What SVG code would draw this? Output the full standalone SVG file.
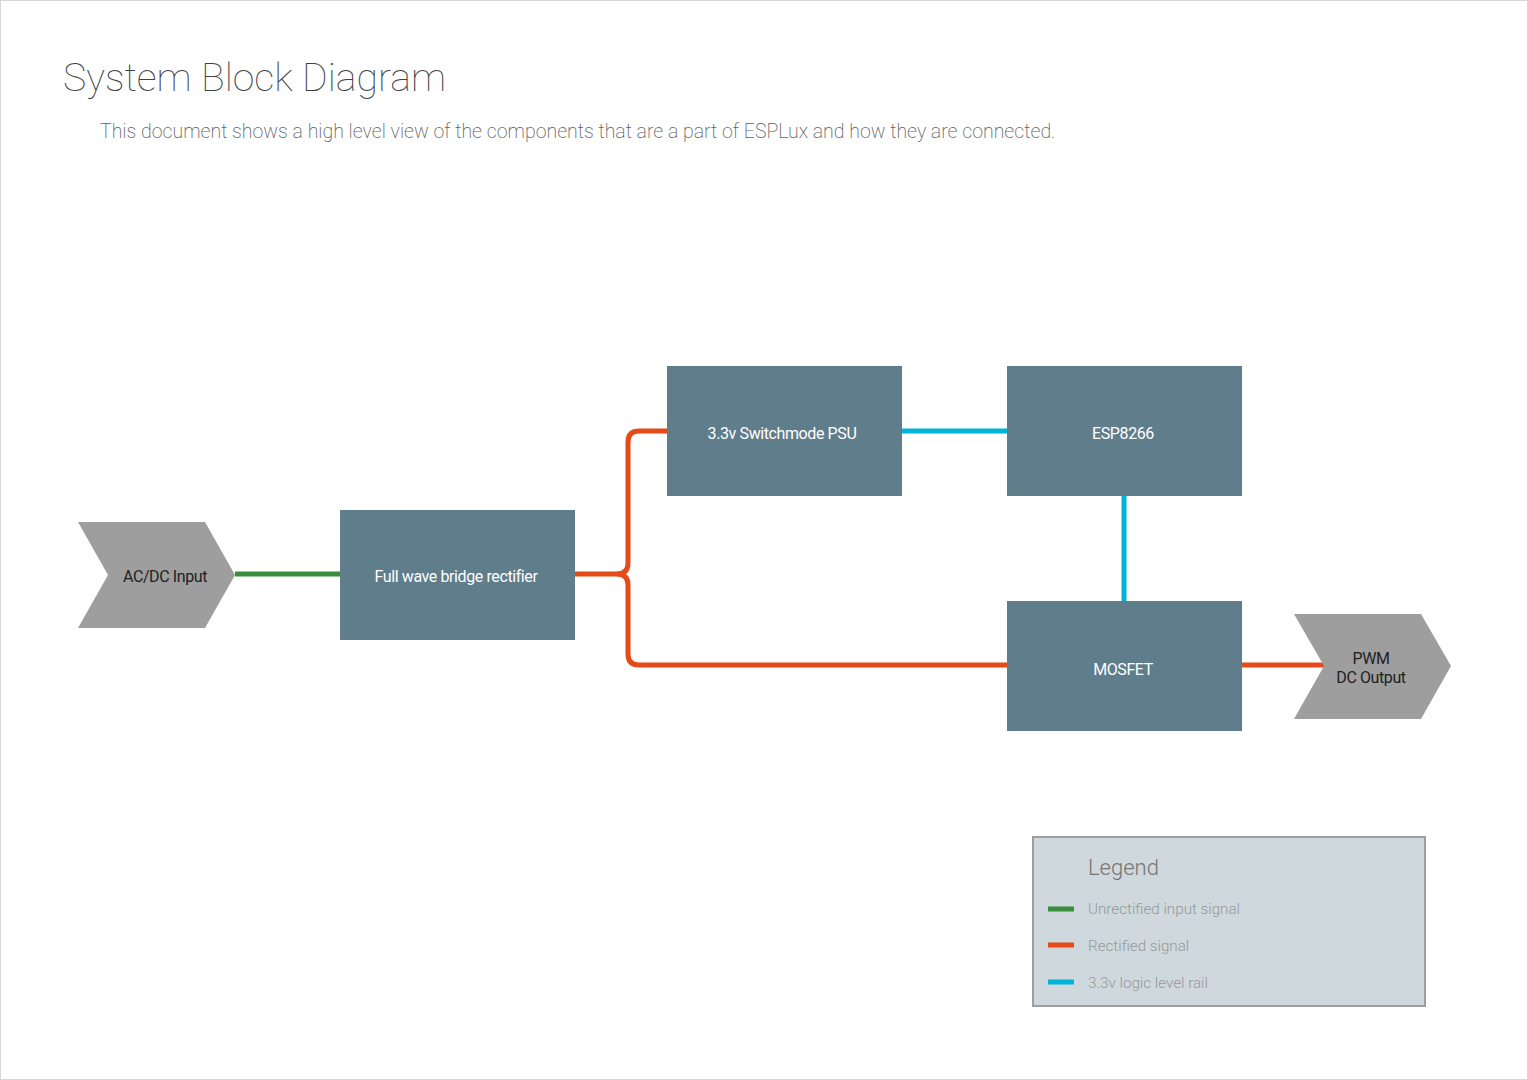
<svg xmlns="http://www.w3.org/2000/svg" width="1528" height="1080" viewBox="0 0 1528 1080">
<style>
.node{fill:#607d8b}
.chev{fill:#9e9e9e}
.nt{font-family:Roboto,"Liberation Sans",sans-serif;font-size:16px;fill:#ffffff;text-anchor:middle;letter-spacing:-0.4px}
.ct{font-family:Roboto,"Liberation Sans",sans-serif;font-size:16px;fill:#212121;text-anchor:middle;letter-spacing:-0.4px}
.w{fill:none;stroke-width:5;stroke-linecap:butt;stroke-linejoin:round}
.g{stroke:#388e3c}
.o{stroke:#e64a19}
.c{stroke:#00b4d8}
.lt{font-family:Roboto,"Liberation Sans",sans-serif;font-weight:300;font-size:15.2px;fill:#95999b}
</style>
<rect x="0.5" y="0.5" width="1527" height="1079" fill="#ffffff" stroke="#d6d6d6"/>
<text x="63" y="91" font-family="Roboto,'Liberation Sans',sans-serif" font-weight="100" font-size="39.2" fill="#424242">System Block Diagram</text>
<text x="100" y="138" font-family="Roboto,'Liberation Sans',sans-serif" font-weight="200" font-size="19.5" fill="#616161">This document shows a high level view of the components that are a part of ESPLux and how they are connected.</text>
<g id="connectors">
<path class="w g" d="M235 574 H340"/>
<path class="w o" d="M575 574 H617 Q628 574 628 563 V442 Q628 431 639 431 H667"/>
<path class="w o" d="M617 574 Q628 574 628 585 V654 Q628 665 639 665 H1007"/>
<path class="w o" d="M1242 665 H1324"/>
<path class="w c" d="M902 431 H1007"/>
<path class="w c" d="M1124 496 V601"/>
</g>
<g id="acdc-input">
<polygon class="chev" points="78,522 205,522 235,575 205,628 78,628 108,575"/>
<text class="ct" x="165" y="582">AC/DC Input</text>
</g>
<g id="rectifier">
<rect class="node" x="340" y="510" width="235" height="130"/>
<text class="nt" x="456" y="582">Full wave bridge rectifier</text>
</g>
<g id="psu">
<rect class="node" x="667" y="366" width="235" height="130"/>
<text class="nt" x="782" y="439">3.3v Switchmode PSU</text>
</g>
<g id="esp8266">
<rect class="node" x="1007" y="366" width="235" height="130"/>
<text class="nt" x="1123" y="439">ESP8266</text>
</g>
<g id="mosfet">
<rect class="node" x="1007" y="601" width="235" height="130"/>
<text class="nt" x="1123" y="675">MOSFET</text>
</g>
<g id="pwm-output">
<polygon class="chev" points="1294,614 1421,614 1451,666 1421,719 1294,719 1324,666"/>
<text class="ct" x="1371" y="664">PWM</text>
<text class="ct" x="1371" y="683">DC Output</text>
</g>
<g id="legend">
<rect x="1033" y="837" width="392" height="169" fill="#cfd8dc" stroke="#9e9e9e" stroke-width="2"/>
<text x="1088" y="875" font-family="Roboto,'Liberation Sans',sans-serif" font-weight="300" font-size="22" fill="#757575">Legend</text>
<path class="w g" d="M1048 909 H1074"/>
<text class="lt" x="1088" y="914">Unrectified input signal</text>
<path class="w o" d="M1048 945 H1074"/>
<text class="lt" x="1088" y="951">Rectified signal</text>
<path class="w c" d="M1048 982 H1074"/>
<text class="lt" x="1088" y="988">3.3v logic level rail</text>
</g>
</svg>
